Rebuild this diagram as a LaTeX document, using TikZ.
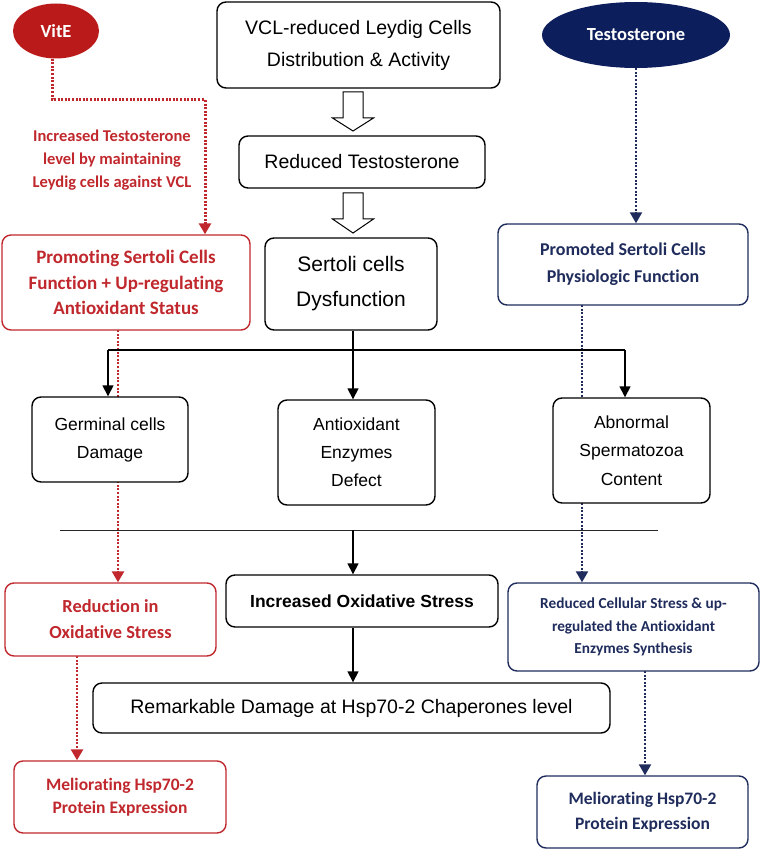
\documentclass[tikz,border=0pt]{standalone}
\usepackage{fontspec}
\setmainfont{Liberation Sans}
\newfontfamily\carl[Ligatures={NoCommon}]{Carlito}
\usetikzlibrary{arrows.meta,shapes.geometric}
\definecolor{rd}{HTML}{C0282D}
\definecolor{rdfill}{HTML}{BA1A1A}
\definecolor{nv}{HTML}{1F2C5C}
\definecolor{nvfill}{HTML}{0C1E5B}
\pgfdeclarelayer{background}
\pgfsetlayers{background,main}
\begin{document}
\begin{tikzpicture}[x=1pt,y=-1pt,
  box/.style={draw=black, line width=1.4pt, rounded corners=9pt, fill=white, align=center, inner sep=0pt},
  rbox/.style={draw=rd, line width=1.4pt, rounded corners=9pt, fill=white, align=center, inner sep=0pt, text=rd},
  bbox/.style={draw=nv, line width=1.4pt, rounded corners=9pt, fill=white, align=center, inner sep=0pt, text=nv},
  ell/.style={ellipse, inner sep=0pt, text=white, font=\carl\bfseries\fontsize{18.5}{22}\selectfont},
  blk/.style={line width=1.5pt, -{Triangle[width=11pt,length=11pt]}},
  rdot/.style={draw=rd, line width=2.5pt, dash pattern=on 2pt off 1.6pt, -{Triangle[width=12pt,length=11pt]}},
  bdot/.style={draw=nv, line width=2.2pt, dash pattern=on 2pt off 1.6pt, -{Triangle[width=12pt,length=11pt]}},
  hollow/.style={draw=black, line width=1pt, fill=white}
]
\useasboundingbox (0,0) rectangle (761,850);

% ellipses
\node[ell, fill=rdfill, minimum width=86pt, minimum height=55pt] (vite) at (56,31) {VitE};
\node[ell, fill=nvfill, minimum width=188pt, minimum height=66pt] (testo) at (636,35) {Testosterone};

% central chain
\node[box, minimum width=283pt, minimum height=86pt, font=\fontsize{19.5}{32}\selectfont] (vcl) at (358.5,45) {VCL-reduced Leydig Cells\\Distribution \& Activity};
\node[box, minimum width=246pt, minimum height=52pt, font=\fontsize{19.5}{24}\selectfont] (redT) at (362,162) {Reduced Testosterone};
\node[box, minimum width=172pt, minimum height=92pt, font=\fontsize{21}{35}\selectfont] (sert) at (351,284) {Sertoli cells\\Dysfunction};

% red side
\node[text=rd, align=center, font=\carl\bfseries\fontsize{16.5}{23}\selectfont] (lab) at (112,160) {Increased Testosterone\\level by maintaining\\Leydig cells against VCL};
\node[rbox, minimum width=248pt, minimum height=95pt, font=\carl\bfseries\fontsize{19}{25.5}\selectfont] (prom) at (126,282.5) {Promoting Sertoli Cells\\Function + Up-regulating\\Antioxidant Status};
\node[rbox, minimum width=211pt, minimum height=73pt, font=\carl\bfseries\fontsize{18.4}{26}\selectfont] (red1) at (110.5,619.5) {Reduction in\\Oxidative Stress};
\node[rbox, minimum width=212pt, minimum height=72pt, font=\carl\bfseries\fontsize{17.5}{23.5}\selectfont] (mel1) at (120,797) {Meliorating Hsp70-2\\Protein Expression};

% blue side
\node[bbox, minimum width=250pt, minimum height=81pt, font=\carl\bfseries\fontsize{18}{27}\selectfont] (promB) at (623,264.5) {Promoted Sertoli Cells\\Physiologic Function};
\node[bbox, minimum width=251pt, minimum height=88pt, font=\carl\bfseries\fontsize{15.3}{22.5}\selectfont] (redC) at (633.5,627) {Reduced Cellular Stress \& up-\\regulated the Antioxidant\\Enzymes Synthesis};
\node[bbox, minimum width=211pt, minimum height=72pt, font=\carl\bfseries\fontsize{17.5}{25}\selectfont] (mel2) at (642.5,812) {Meliorating Hsp70-2\\Protein Expression};

% middle row
\node[box, minimum width=156pt, minimum height=85pt, font=\fontsize{17.5}{28}\selectfont] (germ) at (110,439.5) {Germinal cells\\Damage};
\node[box, minimum width=157pt, minimum height=105pt, font=\fontsize{17.5}{28}\selectfont] (anti) at (356.5,452.5) {Antioxidant\\Enzymes\\Defect};
\node[box, minimum width=157pt, minimum height=105pt, font=\fontsize{17.5}{28.5}\selectfont] (abn) at (631.5,450.5) {Abnormal\\Spermatozoa\\Content};

% lower chain
\node[box, minimum width=272pt, minimum height=52pt, font=\bfseries\fontsize{17.5}{22}\selectfont] (incr) at (362,601) {Increased Oxidative Stress};
\node[box, minimum width=517pt, minimum height=50pt, font=\fontsize{19.5}{24}\selectfont] (rem) at (351.5,708) {Remarkable Damage at Hsp70-2 Chaperones level};

% coordinates
\coordinate (c1) at (205,100);
\coordinate (r1) at (118,330);
\coordinate (r2) at (77,656);
\coordinate (b1) at (582,305);
\coordinate (b2) at (645,671);
\coordinate (j) at (353,350);
\coordinate (jl) at (108,350);
\coordinate (jr) at (625,350);
\coordinate (sl) at (60,530);
\coordinate (sr) at (658,530);
\coordinate (sm) at (353,530);

\begin{pgfonlayer}{background}
\draw[rdot, line width=3pt] (vite.south -| 52,0) |- (c1) -- (c1 |- prom.north);
\draw[rdot] (r1) -- (r1 |- red1.north);
\draw[rdot] (r2) -- (r2 |- mel1.north);
\draw[bdot] (testo.south) -- (testo.south |- promB.north);
\draw[bdot] (b1) -- (b1 |- redC.north);
\draw[bdot] (b2) -- (b2 |- mel2.north);
\end{pgfonlayer}

% black connectors
\draw[line width=1.5pt] (sert.south -| j) -- (j);
\draw[line width=1.5pt] (jl) -- (jr);
\draw[blk] (jl) -- (jl |- germ.north);
\draw[blk] (j) -- (j |- anti.north);
\draw[blk] (jr) -- (jr |- abn.north);
\draw[line width=1pt, draw=black!85] (sl) -- (sr);
\draw[blk] (sm) -- (sm |- incr.north);
\draw[blk] (incr.south -| sm) -- (sm |- rem.north);

% hollow arrows
\draw[hollow] (343,92) -- (363,92) -- (363,118) -- (373.5,118) -- (353,131) -- (332.5,118) -- (343,118) -- cycle;
\draw[hollow] (343,193) -- (363,193) -- (363,219) -- (373.5,219) -- (353,233) -- (332.5,219) -- (343,219) -- cycle;
\end{tikzpicture}
\end{document}
